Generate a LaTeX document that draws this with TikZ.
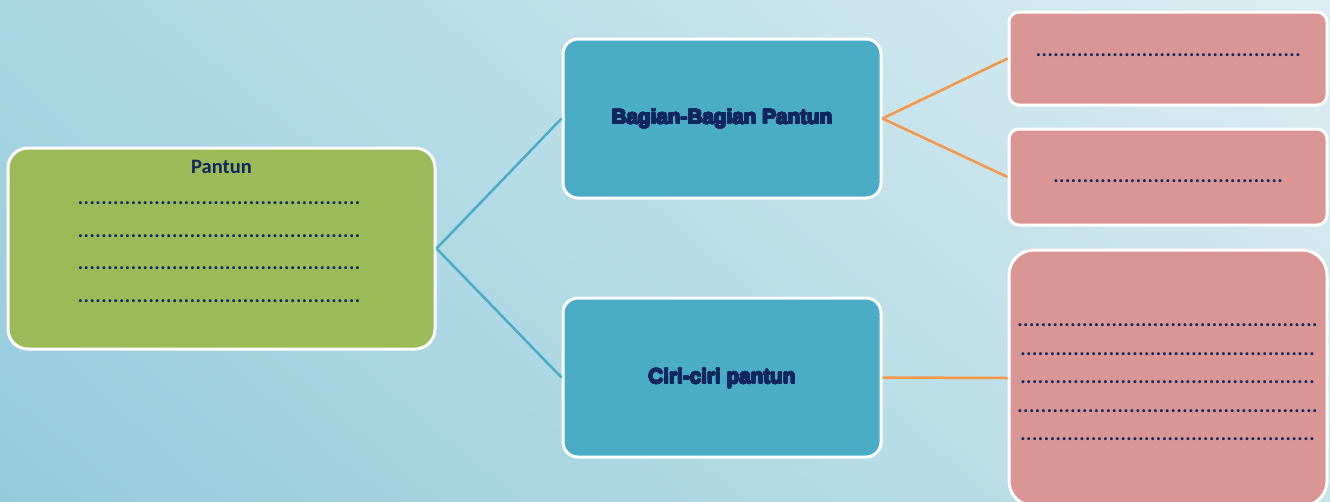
\documentclass[tikz,border=0pt]{standalone}
\usepackage{fontspec}
\usepackage{contour}
\usetikzlibrary{shadings}
\setmainfont{Carlito}
\newfontfamily\blackfont{Liberation Sans Bold}
\contourlength{0.6pt}
\contournumber{24}
\definecolor{bgA}{HTML}{94CBDB}
\definecolor{bgB}{HTML}{A9D6E3}
\definecolor{bgC}{HTML}{C6E3EA}
\definecolor{bgD}{HTML}{DDEEF3}
\definecolor{greenbox}{HTML}{9BBB59}
\definecolor{bluebox}{HTML}{4BACC6}
\definecolor{pinkbox}{HTML}{D99694}
\definecolor{navy}{HTML}{10265F}
\definecolor{tealline}{HTML}{4BACC6}
\definecolor{orangeline}{HTML}{F79646}
\newcommand\dotrow[1]{\hbox to #1{\leaders\hbox to 5.9pt{\hss.\hss}\hfill}}
\newcommand\heavytext[1]{\contour{navy}{#1}}
\tikzset{
  box/.style={draw=white, line width=3pt, inner sep=0pt},
  gbox/.style={box, fill=greenbox, rounded corners=20pt, minimum width=427pt, minimum height=201pt},
  bbox/.style={box, fill=bluebox, rounded corners=15pt, minimum width=318pt, minimum height=159pt},
  pbox/.style={box, fill=pinkbox, rounded corners=10pt, minimum width=318pt},
  dotline/.style={text=navy, font=\fontsize{20}{20}\selectfont\bfseries, inner sep=0pt, anchor=base},
  title/.style={text=navy, font=\fontsize{20.5}{20.5}\selectfont\bfseries, inner sep=0pt},
  btitle/.style={text=navy, font=\fontsize{20.7}{20.7}\selectfont\blackfont, inner sep=0pt},
  tconn/.style={draw=tealline, line width=2.5pt},
  oconn/.style={draw=orangeline, line width=2.5pt},
}
\begin{document}
\begin{tikzpicture}[x=1pt,y=-1pt]
\clip (0,0) rectangle (1330,501);
\useasboundingbox (0,0) rectangle (1330,501);
\shade[lower left=bgA, upper left=bgB, lower right=bgC, upper right=bgD] (0,0) rectangle (1330,501);
% nodes
\node[gbox] (pantun) at (221.5,248.5) {};
\node[bbox] (bagian) at (722,118.5) {};
\node[bbox] (ciri) at (722,377.5) {};
\node[pbox, minimum height=93pt] (p1) at (1168,58.5) {};
\node[pbox, minimum height=96pt] (p2) at (1168,177) {};
\node[pbox, rounded corners=25pt, minimum height=256pt] (p3) at (1168,378) {};
% connectors
\draw[tconn] (pantun.east) -- (bagian.west);
\draw[tconn] (pantun.east) -- (ciri.west);
\draw[oconn] (bagian.east) -- (p1.west);
\draw[oconn] (bagian.east) -- (p2.west);
\draw[oconn] (ciri.east) -- (p3.west);
% texts
\node[title] (tpantun) at (221.5,167) {Pantun};
\node[dotline] (g1) at (221.5,204.5) {\dotrow{288pt}};
\node[dotline] (g2) at (221.5,237.5) {\dotrow{288pt}};
\node[dotline] (g3) at (221.5,269.5) {\dotrow{288pt}};
\node[dotline] (g4) at (221.5,302.5) {\dotrow{288pt}};
\node[btitle] (tbagian) at (722,119) {\heavytext{Bagian-Bagian Pantun}};
\node[btitle] (tciri) at (722,378.5) {\heavytext{Ciri-ciri pantun}};
\node[dotline] (d1) at (1169.5,56.5) {\dotrow{268pt}};
\node[dotline] (d2) at (1169,182.5) {\dotrow{232pt}};
\node[dotline] (d3) at (1168.5,326.5) {\dotrow{303pt}};
\node[dotline] (d4) at (1168.5,355.5) {\dotrow{297pt}};
\node[dotline] (d5) at (1168.5,383.5) {\dotrow{297pt}};
\node[dotline] (d6) at (1168.5,412.5) {\dotrow{303pt}};
\node[dotline] (d7) at (1168.5,440.5) {\dotrow{297pt}};
\end{tikzpicture}
\end{document}
